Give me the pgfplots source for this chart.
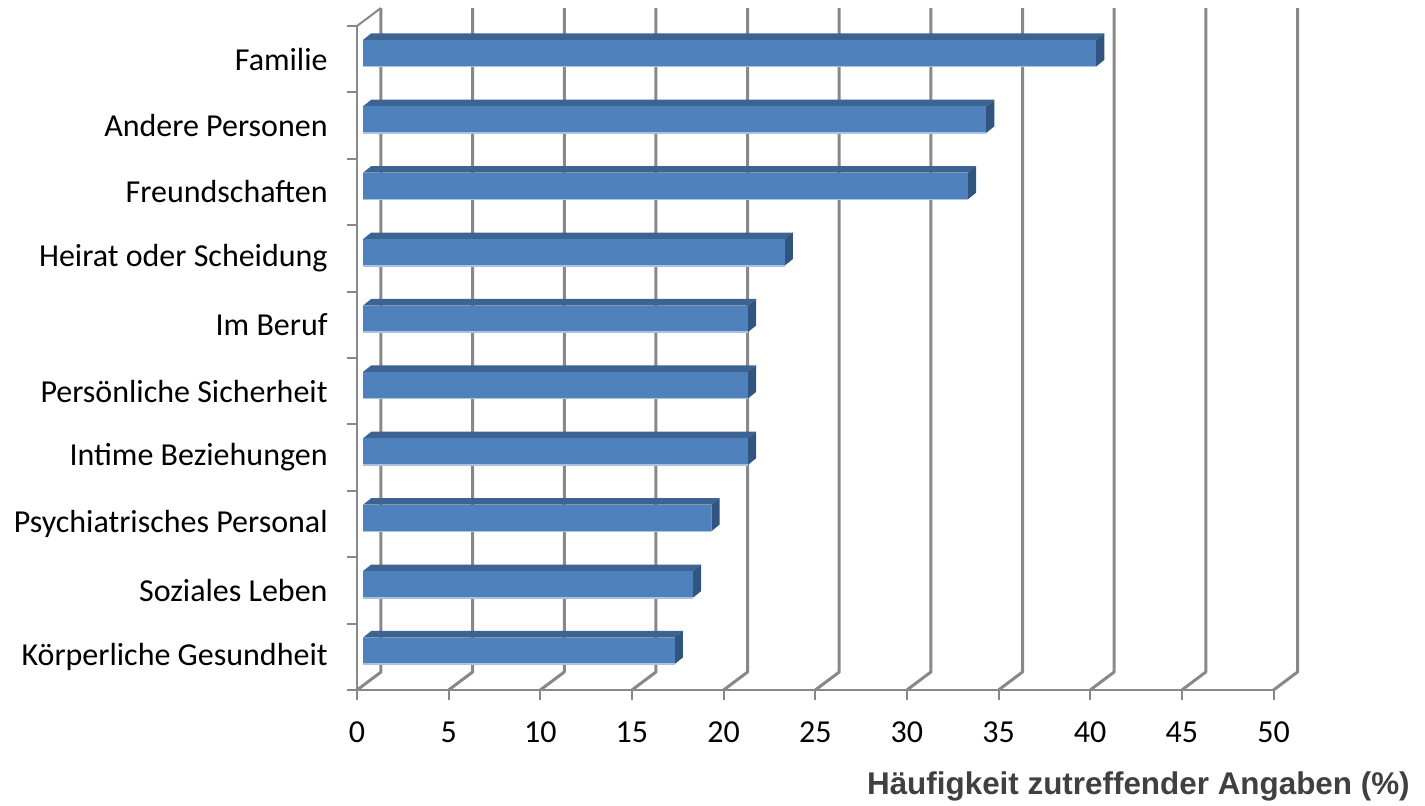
\documentclass[border=0pt]{standalone}
\usepackage{pgfplots}
\usepackage{pgfplotstable}
\pgfplotsset{compat=1.18}
\usepackage{fontspec}
\setmainfont{Carlito}
\newfontfamily\titlefont{Liberation Sans}

\definecolor{barfront}{HTML}{4F81BD}
\definecolor{bartop}{HTML}{3C6392}
\definecolor{barside}{HTML}{30557F}
\definecolor{barlight}{HTML}{A9C2E0}
\definecolor{gridgray}{HTML}{888888}
\definecolor{titlegray}{HTML}{404040}

% values per category, bottom (0) to top (9)
\pgfplotstableread{
idx v
0 17
1 18
2 19
3 21
4 21
5 21
6 23
7 33
8 34
9 40
}\bardata

\begin{document}
\begin{tikzpicture}
\useasboundingbox (0,0) rectangle (712.5pt,402.5pt);
\begin{axis}[
  at={(178.5pt,57.5pt)}, anchor=origin,
  x=9.165pt, y=33.2pt,
  xmin=0, xmax=50, ymin=0, ymax=10,
  clip=false,
  axis lines*=left,
  axis line style={gridgray, line width=1pt},
  xtick={0,5,...,50},
  tick align=outside,
  major tick length=5pt,
  minor tick length=5pt,
  xtick style={gridgray, line width=1pt},
  ytick={0.5,1.5,...,9.5},
  yticklabels={Körperliche Gesundheit, Soziales Leben, Psychiatrisches Personal,
    Intime Beziehungen, Persönliche Sicherheit, Im Beruf, Heirat oder Scheidung,
    Freundschaften, Andere Personen, Familie},
  ytick style={draw=none},
  minor ytick={0,1,...,10},
  minor y tick style={gridgray, line width=1pt, draw=gridgray},
  /pgf/number format/assume math mode=true,
  ticklabel style={font=\fontsize{16}{19}\selectfont, text=black},
  yticklabel style={anchor=east, inner sep=0pt, xshift=-9.5pt},
  xticklabel style={anchor=base, inner sep=0pt, yshift=-21pt},
]
% back-wall gridlines with their floor diagonals
\pgfplotsinvokeforeach{0,5,...,50}{
  \addplot[gridgray, line width=1.5pt, line join=round]
    coordinates {(#1,0) (#1+1.309,0.271) (#1+1.309,10.271)};
}
\addplot[gridgray, line width=1pt] coordinates {(0,10) (1.309,10.271)};

% 3D bars: front face, top face, side face
\pgfplotsinvokeforeach{0,...,9}{
  \pgfplotstablegetelem{#1}{v}\of\bardata
  \pgfmathsetmacro\xa{0.327}
  \pgfmathsetmacro\xb{0.327+\pgfplotsretval}
  \pgfmathsetmacro\xc{\xb+0.45}
  \pgfmathsetmacro\xd{\xa+0.45}
  \pgfmathsetmacro\yb{#1+0.5-0.11}
  \pgfmathsetmacro\yt{#1+0.5+0.29}
  \pgfmathsetmacro\ybb{\yb+0.1}
  \pgfmathsetmacro\ytt{\yt+0.1}
  \edef\temp{%
    \noexpand\addplot[fill=bartop, draw=none]
      coordinates {(\xa,\yt) (\xb,\yt) (\xc,\ytt) (\xd,\ytt)} -- cycle;
    \noexpand\addplot[fill=barside, draw=none]
      coordinates {(\xb,\yb) (\xc,\ybb) (\xc,\ytt) (\xb,\yt)} -- cycle;
    \noexpand\addplot[fill=barfront, draw=none]
      coordinates {(\xa,\yb) (\xb,\yb) (\xb,\yt) (\xa,\yt)} -- cycle;
    \noexpand\addplot[barlight, line width=0.8pt]
      coordinates {(\xa,\yb) (\xb,\yb)};
  }\temp
}

\node[anchor=base east, inner sep=0pt, text=titlegray,
      font=\titlefont\bfseries\fontsize{15.7}{18}\selectfont]
  at (axis cs:57.45,-1.581) {Häufigkeit zutreffender Angaben (\%)};
\end{axis}
\end{tikzpicture}
\end{document}
